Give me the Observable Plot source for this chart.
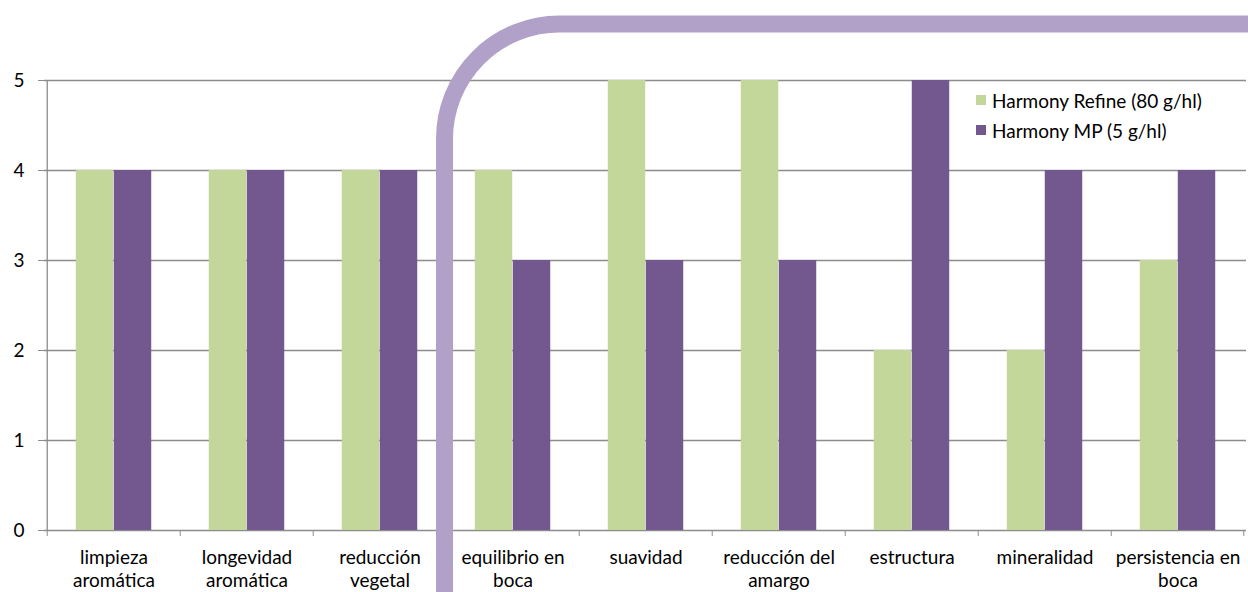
<!DOCTYPE html>
<html>
<head>
<meta charset="utf-8">
<script src="https://cdn.jsdelivr.net/npm/d3@7"></script>
<script src="https://cdn.jsdelivr.net/npm/@observablehq/plot@0.6"></script>
<style>
  html, body { margin: 0; padding: 0; background: #fff; }
  #wrap { position: relative; width: 1248px; height: 592px; overflow: hidden; font-family: Lato, "Open Sans", sans-serif; }
  #legend { position: absolute; left: 976px; top: 85px; font-size: 19px; color: #000; }
  #legend .item { display: flex; align-items: center; height: 30px; }
  #legend .sw { width: 10px; height: 10px; margin-right: 6px; }
</style>
</head>
<body>
<div id="wrap"><div id="legend"></div></div>
<script>
const categories = ["limpieza aromática", "longevidad aromática", "reducción vegetal", "equilibrio en boca", "suavidad", "reducción del amargo", "estructura", "mineralidad", "persistencia en boca"];
const tickLabels = ["limpieza\naromática", "longevidad\naromática", "reducción\nvegetal", "equilibrio en\nboca", "suavidad", "reducción del\namargo", "estructura", "mineralidad", "persistencia en\nboca"];
const seriesNames = ["Harmony Refine (80 g/hl)", "Harmony MP (5 g/hl)"];
const refineValues = [4, 4, 4, 4, 5, 5, 2, 2, 3];
const mpValues = [4, 4, 4, 3, 3, 3, 5, 4, 4];
const seriesColors = ["#c4d79b", "#72588f"];
const yTicks = [0, 1, 2, 3, 4, 5];

const W = 1248, H = 592, mL = 44, mR = 2, mT = 80, mB = 62;
const bw = (W - mL - mR) / categories.length;
const barW = 38;
const grid = "#8c8c8c";

const refineRows = categories.map((c, i) => ({category: c, series: seriesNames[0], value: refineValues[i]}));
const mpRows = categories.map((c, i) => ({category: c, series: seriesNames[1], value: mpValues[i]}));

const chart = Plot.plot({
  width: W, height: H,
  marginLeft: mL, marginRight: mR, marginTop: mT, marginBottom: mB,
  style: {fontFamily: "Lato, 'Open Sans', sans-serif", fontSize: "19px", color: "#000", background: "#fff"},
  x: {domain: categories, padding: 0, axis: null, label: null},
  y: {domain: [0, 5], axis: null, label: null},
  color: {domain: seriesNames, range: seriesColors},
  marks: [
    Plot.ruleY(yTicks, {stroke: grid, strokeWidth: 1.3}),
    Plot.barY(refineRows, {x: "category", y: "value", fill: "series", insetLeft: bw / 2 - barW, insetRight: bw / 2}),
    Plot.barY(mpRows, {x: "category", y: "value", fill: "series", insetLeft: bw / 2, insetRight: bw / 2 - barW}),
    Plot.ruleX([categories[0]], {x: d => d, y1: 0, y2: 5, dx: -bw / 2, stroke: grid, strokeWidth: 1.3}),
    Plot.axisY({ticks: yTicks, tickSize: 6, tickPadding: 14, stroke: grid, fill: "#000", label: null, tickFormat: d => String(d)}),
    Plot.axisX({ticks: categories, tickSize: 6, tickFormat: () => "", dx: -bw / 2, stroke: grid, label: null}),
    Plot.axisX({ticks: [categories[categories.length - 1]], tickSize: 6, tickFormat: () => "", dx: bw / 2 - 1, stroke: grid, label: null}),
    Plot.axisX({ticks: categories, tickSize: 0, tickPadding: 18, lineHeight: 1.18, fill: "#000", label: null,
      tickFormat: d => tickLabels[categories.indexOf(d)]})
  ]
});

// decorative rounded bracket line
d3.select(chart).append("path")
  .attr("d", "M444.5,600 V139 A115,115 0 0 1 559.5,24 H1260")
  .attr("fill", "none")
  .attr("stroke", "#b1a0c7")
  .attr("stroke-width", 17);

document.getElementById("wrap").prepend(chart);

const legend = document.getElementById("legend");
seriesNames.forEach((s, i) => {
  const item = document.createElement("div");
  item.className = "item";
  const sw = document.createElement("span");
  sw.className = "sw";
  sw.style.background = seriesColors[i];
  const t = document.createElement("span");
  t.textContent = s;
  item.appendChild(sw);
  item.appendChild(t);
  legend.appendChild(item);
});
</script>
</body>
</html>
